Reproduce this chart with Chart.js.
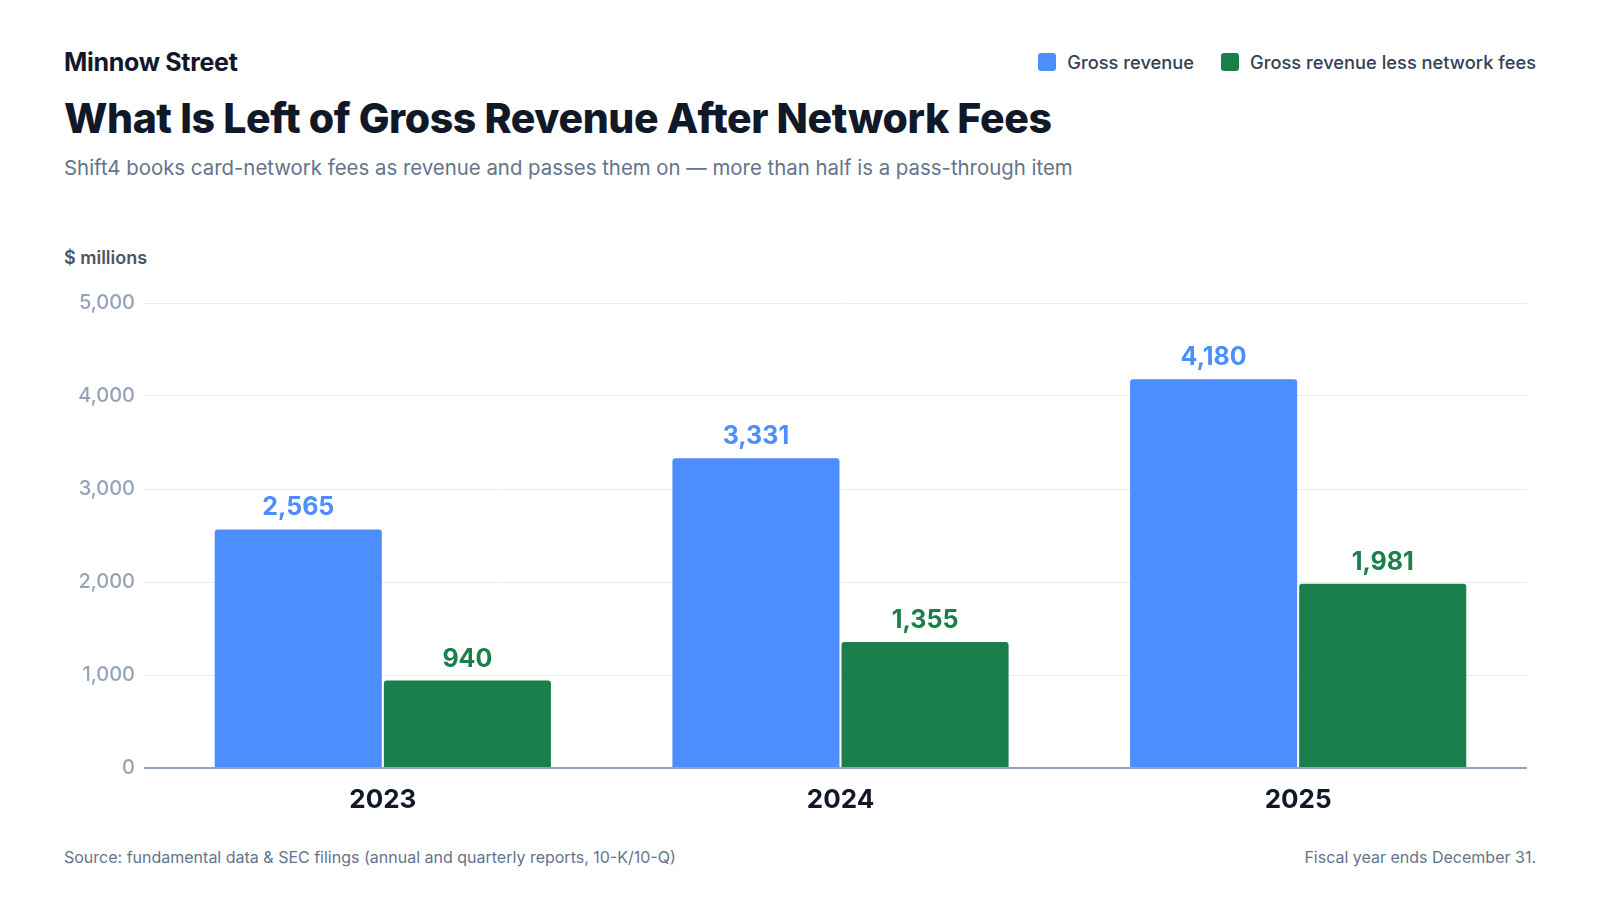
<!DOCTYPE html>
<html>
<head>
<meta charset="utf-8">
<script src="https://cdn.jsdelivr.net/npm/chart.js@4.4.1/dist/chart.umd.min.js"></script>
<style>
  html, body { margin: 0; padding: 0; background: #ffffff; }
  body { width: 1600px; height: 900px; position: relative; overflow: hidden; font-family: Inter, "Noto Sans", sans-serif; }
  .t { position: absolute; line-height: 1; white-space: nowrap; }
  #brand { left: 64px; top: 49.5px; font-size: 25px; font-weight: 700; color: #111827; letter-spacing: -0.3px; }
  #title { left: 64px; top: 97.8px; font-size: 41px; font-weight: 800; color: #111827; letter-spacing: -0.4px; }
  #subtitle { left: 64px; top: 158.2px; font-size: 20.4px; font-weight: 400; color: #64748b; }
  #unit { left: 64px; top: 249px; font-size: 18px; font-weight: 600; color: #4b5563; }
  #legend { position: absolute; right: 64px; top: 52.5px; display: flex; align-items: center; font-size: 18.3px; font-weight: 500; color: #334155; line-height: 1; }
  .li { display: flex; align-items: center; margin-left: 27px; }
  .sw { width: 18px; height: 18px; border-radius: 3px; margin-right: 11px; }
  #source { left: 64px; top: 849px; font-size: 16px; color: #64748b; }
  #note { right: 64px; top: 849px; font-size: 16px; color: #64748b; }
  #wrap { position: absolute; left: 64px; top: 270px; width: 1472px; height: 560px; }
</style>
</head>
<body>
<div class="t" id="brand">Minnow Street</div>
<div class="t" id="title">What Is Left of Gross Revenue After Network Fees</div>
<div class="t" id="subtitle">Shift4 books card-network fees as revenue and passes them on — more than half is a pass-through item</div>
<div class="t" id="unit">$ millions</div>
<div id="legend"></div>
<div id="wrap"><canvas id="c"></canvas></div>
<div class="t" id="source">Source: fundamental data &amp; SEC filings (annual and quarterly reports, 10-K/10-Q)</div>
<div class="t" id="note">Fiscal year ends December 31.</div>
<script>
const categories = ['2023', '2024', '2025'];
const seriesNames = ['Gross revenue', 'Gross revenue less network fees'];
const grossRevenue = [2565, 3331, 4180];
const netOfNetworkFees = [940, 1355, 1981];
const seriesColors = ['#4d8eff', '#1b7f4c'];
const yMin = 0;
const yMax = 5000;
const yStep = 1000;

const legendEl = document.getElementById('legend');
seriesNames.forEach((name, i) => {
  const item = document.createElement('div');
  item.className = 'li';
  const sw = document.createElement('div');
  sw.className = 'sw';
  sw.style.background = seriesColors[i];
  const tx = document.createElement('span');
  tx.textContent = name;
  item.appendChild(sw);
  item.appendChild(tx);
  legendEl.appendChild(item);
});

const valueLabels = {
  id: 'valueLabels',
  afterDatasetsDraw(chart) {
    const ctx = chart.ctx;
    ctx.save();
    ctx.font = '700 25px Inter, "Noto Sans", sans-serif';
    ctx.textAlign = 'center';
    ctx.textBaseline = 'alphabetic';
    chart.data.datasets.forEach((ds, di) => {
      const meta = chart.getDatasetMeta(di);
      meta.data.forEach((bar, i) => {
        ctx.fillStyle = ds.backgroundColor;
        ctx.fillText(ds.data[i].toLocaleString('en-US'), bar.x, bar.y - 14);
      });
    });
    ctx.restore();
  }
};

const barStyle = {
  categoryPercentage: 0.739,
  barPercentage: 0.988,
  borderRadius: { topLeft: 3, topRight: 3, bottomLeft: 0, bottomRight: 0 },
  borderSkipped: 'bottom'
};

new Chart(document.getElementById('c'), {
  type: 'bar',
  data: {
    labels: categories,
    datasets: [
      Object.assign({ label: seriesNames[0], data: grossRevenue, backgroundColor: seriesColors[0] }, barStyle),
      Object.assign({ label: seriesNames[1], data: netOfNetworkFees, backgroundColor: seriesColors[1] }, barStyle)
    ]
  },
  options: {
    responsive: true,
    maintainAspectRatio: false,
    animation: false,
    layout: { padding: { top: 33, right: 9, left: 0, bottom: 0 } },
    plugins: { legend: { display: false }, tooltip: { enabled: false } },
    scales: {
      x: {
        grid: { display: false },
        border: { display: false },
        ticks: { color: '#111827', font: { family: 'Inter', size: 26, weight: '700' }, padding: 9 },
        afterFit(s) { s.height = 62; }
      },
      y: {
        min: yMin, max: yMax,
        border: { display: false },
        grid: {
          color: c => (c.tick && c.tick.value === 0) ? '#94a3b8' : '#e8ebef',
          lineWidth: c => (c.tick && c.tick.value === 0) ? 2 : 1,
          drawTicks: true,
          tickLength: 10
        },
        ticks: {
          stepSize: yStep,
          color: '#94a3b8',
          font: { family: 'Inter', size: 20, weight: '500' },
          padding: 9
        },
        afterFit(s) { s.width = 90; }
      }
    }
  },
  plugins: [valueLabels]
});
</script>
</body>
</html>
